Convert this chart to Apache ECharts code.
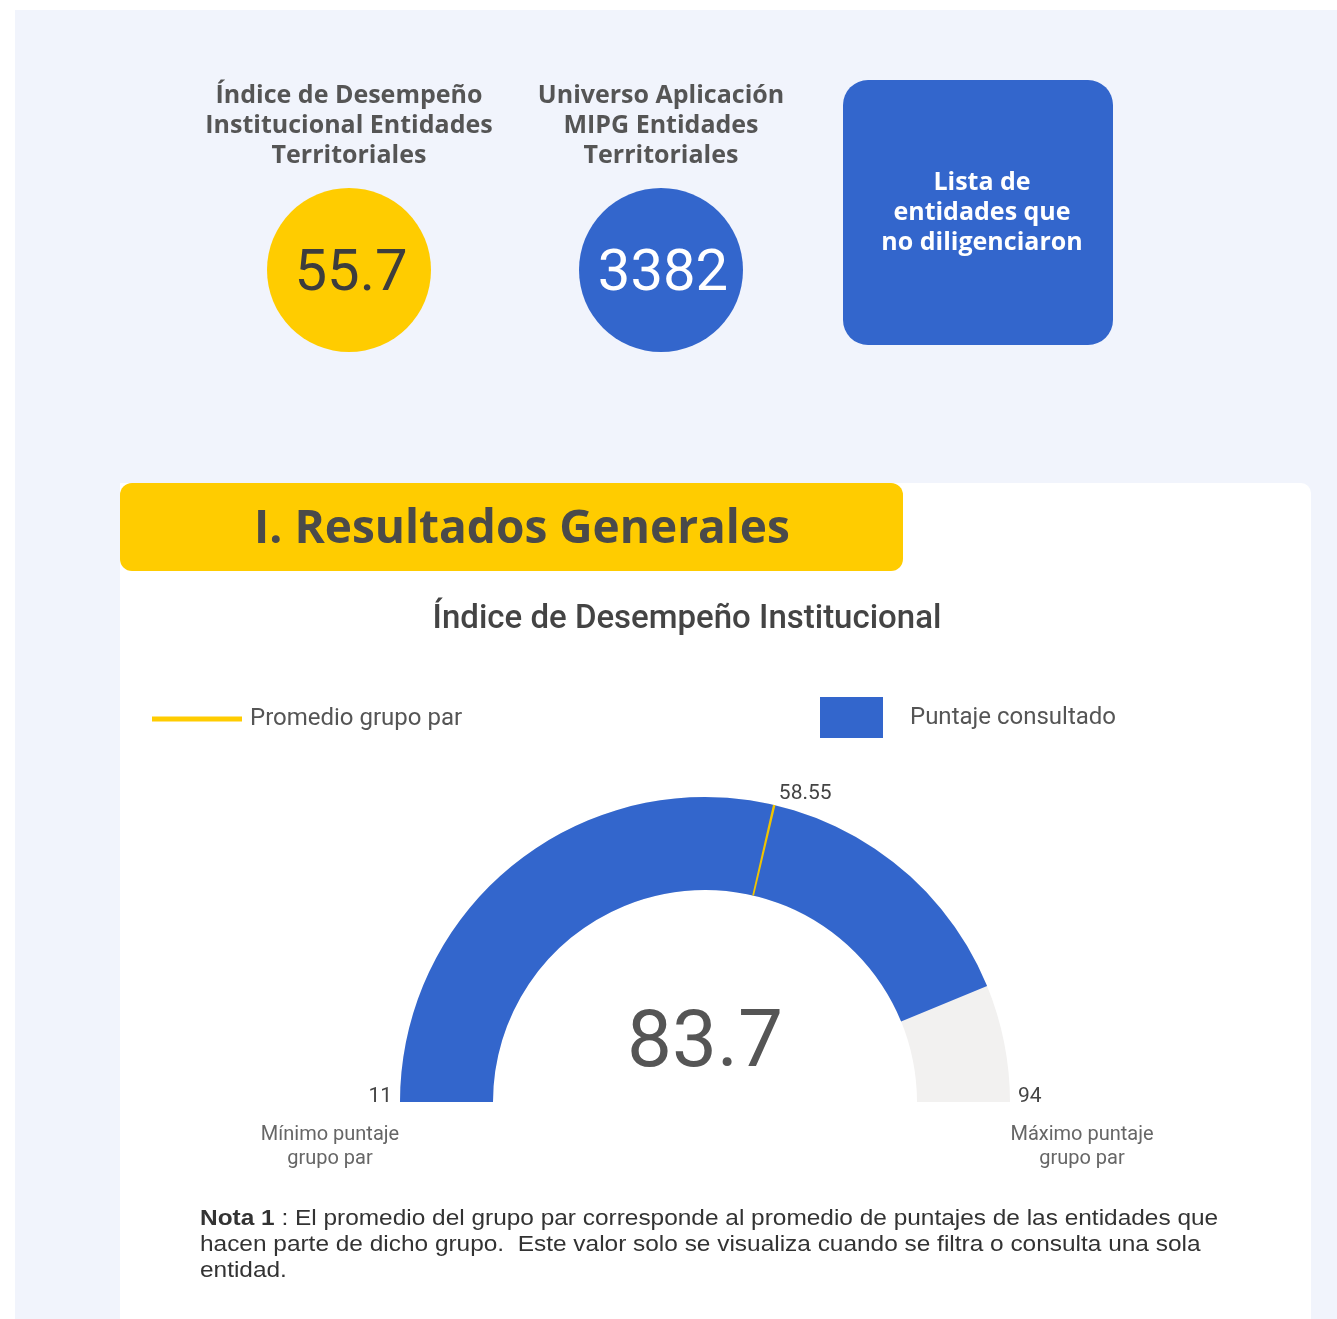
<!DOCTYPE html>
<html>
<head>
<meta charset="utf-8">
<script src="https://cdn.jsdelivr.net/npm/echarts@6/dist/echarts.min.js"></script>
<style>
  html, body { margin: 0; padding: 0; background: #fff; }
  #main { width: 1337px; height: 1319px; }
</style>
</head>
<body>
<div id="main"></div>
<script>
// tarjetas superiores
const kpiTitles = ['Índice de Desempeño\nInstitucional Entidades\nTerritoriales', 'Universo Aplicación\nMIPG Entidades\nTerritoriales'];
const kpiValues = [55.7, 3382];
const kpiColors = ['#ffcc00', '#3366cc'];
const kpiTextColors = ['#3d3d3d', '#ffffff'];

// gauge
const seriesNames = ['Puntaje consultado', 'Promedio grupo par'];
const minScore = 11;
const maxScore = 94;
const score = 83.7;
const peerAvg = 58.55;
const minLabel = 'Mínimo puntaje\ngrupo par';
const maxLabel = 'Máximo puntaje\ngrupo par';

const BLUE = '#3366cc', YELLOW = '#ffcc00', GREY_TXT = '#4a4a4a';
const cx = 705, cy = 1102, R = 305, BAND = 93;

var myChart = echarts.init(document.getElementById('main'));

// fraccion del promedio sobre la escala del gauge
let t = (peerAvg - minScore) / (maxScore - minScore);
let ang = Math.PI * (1 - t);
let avgOff = [Math.cos(ang) * R + 31, -Math.sin(ang) * R - 11];
let eps = 0.0013; // ~2px de ancho para la marca

let graphics = [
  { type: 'rect', z: -10, shape: { x: 15, y: 10, width: 1322, height: 1309 }, style: { fill: '#f1f4fc' } },
  { type: 'rect', z: -9, shape: { x: 120, y: 483, width: 1191, height: 860, r: [0, 10, 0, 0] }, style: { fill: '#ffffff' } },
  { type: 'rect', z: -8, shape: { x: 120, y: 483, width: 783, height: 88, r: 12 }, style: { fill: YELLOW } },
  { type: 'text', z: -7, style: { text: 'I. Resultados Generales', x: 522, y: 530, textAlign: 'center', textVerticalAlign: 'middle',
      font: 'bold 46px "Open Sans"', fill: GREY_TXT } },
  { type: 'text', style: { text: 'Índice de Desempeño Institucional', x: 687, y: 620, textAlign: 'center', textVerticalAlign: 'middle',
      font: '500 33px Roboto', fill: '#444' } },
  // caja lista
  { type: 'rect', shape: { x: 843, y: 80, width: 270, height: 265, r: 25 }, style: { fill: BLUE } },
  { type: 'text', style: { text: 'Lista de\nentidades que\nno diligenciaron', x: 982, y: 213, textAlign: 'center', textVerticalAlign: 'middle',
      font: 'bold 25px "Open Sans"', fill: '#fff', lineHeight: 30 } },
  // extremos
  { type: 'text', style: { text: String(minScore), x: cx - R - 8, y: 1097, textAlign: 'right', textVerticalAlign: 'middle',
      font: '21px Roboto', fill: '#444' } },
  { type: 'text', style: { text: String(maxScore), x: cx + R + 8, y: 1097, textAlign: 'left', textVerticalAlign: 'middle',
      font: '21px Roboto', fill: '#444' } },
  { type: 'text', style: { text: minLabel, x: 330, y: 1147, textAlign: 'center', textVerticalAlign: 'middle',
      font: '20px Roboto', fill: '#666', lineHeight: 24 } },
  { type: 'text', style: { text: maxLabel, x: 1082, y: 1147, textAlign: 'center', textVerticalAlign: 'middle',
      font: '20px Roboto', fill: '#666', lineHeight: 24 } },
  // nota
  { type: 'text', x: 200, y: 1206, scaleX: 1.11, style: {
      text: '{b|Nota 1} : El promedio del grupo par corresponde al promedio de puntajes de las entidades que\nhacen parte de dicho grupo.  Este valor solo se visualiza cuando se filtra o consulta una sola\nentidad.',
      x: 0, y: 0, font: '22px "Liberation Sans"', fill: '#333', lineHeight: 26,
      rich: { b: { fontWeight: 'bold', fontSize: 22, fontFamily: 'Liberation Sans', fill: '#333' } } } }
];

kpiValues.forEach(function (v, i) {
  let x = 349 + i * 312;
  graphics.push({ type: 'text', style: { text: kpiTitles[i], x: x, y: 126, textAlign: 'center', textVerticalAlign: 'middle',
    font: 'bold 25px "Open Sans"', fill: '#555', lineHeight: 30 } });
  graphics.push({ type: 'circle', shape: { cx: x, cy: 270, r: 82 }, style: { fill: kpiColors[i] } });
  graphics.push({ type: 'text', style: { text: String(v), x: x + 2, y: 275, textAlign: 'center', textVerticalAlign: 'middle',
    font: '58px Roboto', fill: kpiTextColors[i] } });
});

myChart.setOption({
  animation: false,
  legend: [
    { left: 147, top: 702, icon: 'rect', itemWidth: 90, itemHeight: 5, data: [{ name: seriesNames[1], itemStyle: { color: YELLOW } }],
      textStyle: { fontSize: 24, fontFamily: 'Roboto', color: '#555', padding: [0, 0, 0, 3] } },
    { left: 815, top: 692, icon: 'rect', itemWidth: 63, itemHeight: 41, data: [{ name: seriesNames[0], itemStyle: { color: BLUE } }],
      textStyle: { fontSize: 24, fontFamily: 'Roboto', color: '#555', padding: [1, 0, 0, 22] } }
  ],
  graphic: graphics,
  series: [
    {
      name: seriesNames[0],
      type: 'gauge',
      center: [cx, cy],
      radius: R,
      startAngle: 180,
      endAngle: 0,
      min: minScore,
      max: maxScore,
      splitNumber: 1,
      itemStyle: { color: BLUE },
      progress: { show: true, width: BAND, itemStyle: { color: BLUE } },
      axisLine: { lineStyle: { width: BAND, color: [[1, '#f2f1f0']] } },
      pointer: { show: false },
      anchor: { show: false },
      axisTick: { show: false },
      splitLine: { show: false },
      axisLabel: { show: false },
      title: { show: false },
      detail: { offsetCenter: [0, -56], fontSize: 80, fontWeight: 'normal', fontFamily: 'Roboto', color: '#555', formatter: '{value}' },
      data: [{ value: score, name: seriesNames[0] }]
    },
    {
      // marca del promedio: segmento fino sobre la banda
      name: seriesNames[1],
      type: 'gauge',
      z: 5,
      center: [cx, cy],
      radius: R,
      startAngle: 180,
      endAngle: 0,
      min: minScore,
      max: maxScore,
      itemStyle: { color: '#f0c400' },
      axisLine: { lineStyle: { width: BAND, color: [[t - eps, 'rgba(0,0,0,0)'], [t + eps, '#f0c400'], [1, 'rgba(0,0,0,0)']] } },
      progress: { show: false },
      pointer: { show: false },
      anchor: { show: false },
      axisTick: { show: false },
      splitLine: { show: false },
      axisLabel: { show: false },
      title: { show: false },
      detail: { offsetCenter: avgOff, fontSize: 21, fontWeight: 'normal', fontFamily: 'Roboto', color: '#444', formatter: '{value}' },
      data: [{ value: peerAvg, name: seriesNames[1] }]
    }
  ]
});
</script>
</body>
</html>
